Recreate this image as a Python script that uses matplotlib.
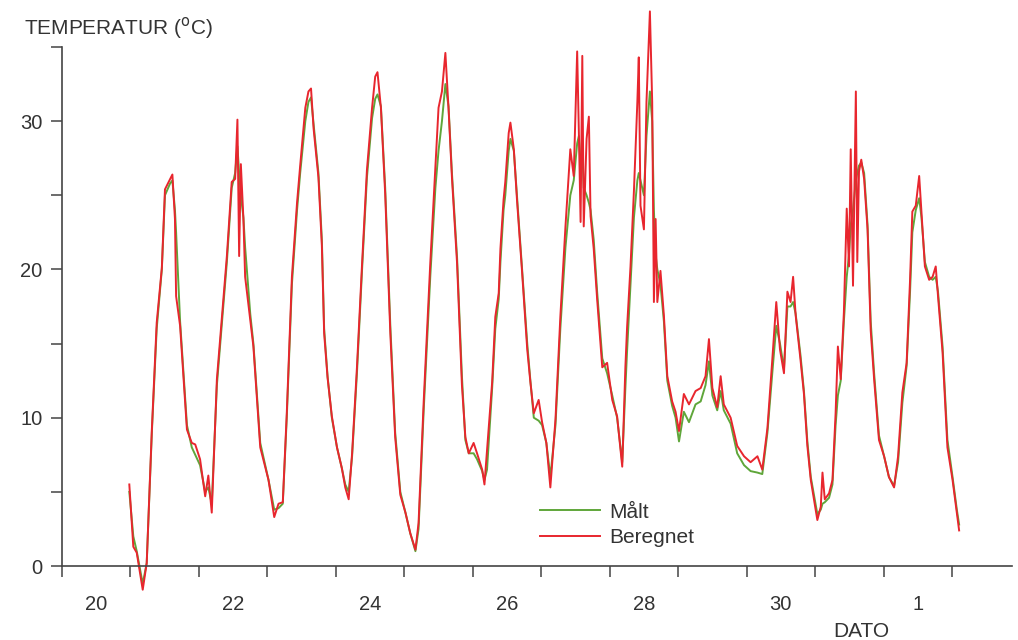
from matplotlib import pyplot as plt

# timer regnet fra 20. kl 00
timer = [23.6, 25.0, 26.2, 28.3, 29.7, 31.5, 33.2, 35.0, 36.1, 37.9, 38.7, 39.6, 40.0, 41.4, 43.8,
         45.5, 46.7, 48.4, 50.2, 51.3, 52.5, 54.3, 57.8, 59.5, 60.7, 61.5, 62.1, 62.7, 63.6, 64.2,
         66.0, 67.1, 69.5, 72.4, 74.4, 75.9, 77.4, 78.8, 80.6, 82.4, 83.5, 85.3, 86.4, 87.3, 88.2,
         89.9, 91.1, 91.9, 93.1, 94.6, 96.4, 98.1, 99.3, 100.5, 101.7, 103.4, 105.2, 106.9, 108.7,
         109.8, 110.6, 111.8, 113.3, 115.1, 116.8, 118.6, 120.4, 122.1, 123.9, 125.0, 126.8, 129.1,
         130.9, 132.0, 133.2, 134.4, 135.5, 136.7, 138.5, 140.2, 141.4, 142.6, 144.3, 145.5, 147.3,
         148.1, 149.0, 150.8, 151.9, 153.1, 153.7, 154.8, 155.4, 156.6, 157.2, 158.4, 159.5, 161.3,
         163.1, 164.2, 165.4, 167.1, 168.3, 169.8, 171.2, 173.0, 174.7, 176.5, 178.2, 179.4, 180.6,
         181.2, 181.8, 182.4, 182.9, 183.9, 184.7, 185.3, 186.4, 187.6, 189.4, 191.1, 192.9, 194.6,
         196.4, 197.5, 198.1, 199.3, 200.5, 201.7, 202.2, 202.8, 204.0, 204.9, 206.1, 206.9, 207.5,
         208.1, 208.7, 209.8, 211.0, 212.2, 213.9, 215.1, 216.3, 218.0, 219.8, 222.1, 223.9, 225.6,
         226.8, 228.0, 229.7, 230.9, 232.0, 234.4, 236.7, 239.1, 241.4, 243.8, 245.5, 247.3, 249.0,
         250.4, 251.7, 253.1, 254.3, 255.4, 256.3, 257.2, 258.9, 260.1, 261.3, 262.5, 263.6, 264.8,
         266.0, 266.6, 267.4, 268.9, 270.1, 271.2, 272.0, 273.0, 274.1, 275.1, 275.9, 276.5, 277.3,
         278.3, 278.8, 279.4, 280.2, 281.2, 282.4, 283.5, 284.7, 286.4, 288.2, 289.9, 291.7, 293.1,
         294.6, 296.1, 297.3, 298.1, 299.3, 300.5, 301.3, 302.5, 304.0, 305.2, 306.3, 307.1, 308.7,
         310.4, 312.2, 313.7, 314.5]

beregnet = [5.5, 1.3, 0.9, -1.6, 0.2, 9.2, 16.4, 20.1, 25.4, 26.1, 26.4, 23.4, 18.2, 16.2, 9.2,
            8.3, 8.2, 7.2, 4.7, 6.1, 3.6, 12.6, 20.9, 25.9, 26.1, 30.1, 20.9, 27.1, 23.4, 19.5,
            16.6, 14.8, 8.0, 5.8, 3.3, 4.2, 4.3, 10.3, 19.5, 24.5, 27.0, 30.9, 32.0, 32.2, 29.5,
            26.2, 21.6, 15.7, 12.7, 10.1, 8.0, 6.6, 5.3, 4.5, 7.6, 13.4, 20.4, 26.7, 30.9,
            33.0, 33.3, 30.9, 25.1, 15.7, 8.7, 4.8, 3.6, 2.2, 1.1, 2.9, 11.1, 20.4,
            26.9, 30.9, 32.0, 34.6, 30.9, 26.2, 20.4, 12.2, 8.7, 7.6, 8.3, 7.6, 6.5,
            5.5, 7.8, 12.4, 16.8, 18.4, 21.4, 24.7, 25.9, 29.2, 29.9, 28.1, 24.7, 19.8,
            14.6, 12.4, 10.3, 11.2, 9.7, 8.3, 5.3, 9.9, 16.8, 22.9, 28.1, 26.3, 34.7,
            29.2, 23.2, 34.4, 22.9, 28.8, 30.3, 23.6, 21.4, 18.0, 13.4, 13.7, 11.2, 10.1,
            6.7, 13.4, 16.1, 20.2, 25.3, 31.3, 34.3, 24.3, 22.7, 31.3, 37.4, 31.3, 17.8,
            23.4, 17.8, 19.9, 16.9, 12.8, 11.1, 10.4, 9.1, 11.6, 10.9, 11.8, 12.0, 12.8,
            15.3, 12.0, 10.7, 12.8, 10.9, 10.0, 8.1, 7.4, 7.0, 7.4, 6.5, 9.3, 13.9,
            17.8, 14.6, 13.0, 18.5, 17.8, 19.5, 16.9, 13.9, 11.6, 8.1, 5.8, 4.5, 3.1,
            4.0, 6.3, 4.5, 4.9, 5.8, 10.3, 14.8, 12.6, 17.1, 24.1, 20.2, 28.1, 18.9,
            32.0, 20.5, 26.6, 27.4, 26.1, 22.7, 15.9, 12.6, 8.5, 7.4, 6.0, 5.3, 7.4,
            11.7, 13.7, 19.3, 23.9, 24.3, 26.3, 23.9, 20.2, 19.3, 19.5, 20.2, 18.2, 14.4,
            8.0, 5.8, 3.6, 2.4]

maalt = [5.0, 2.0, 1.0, -1.2, 0.2, 9.0, 16.0, 20.0, 25.0, 25.8, 26.0, 24.0, 22.5, 16.5, 9.5,
         8.0, 7.5, 6.8, 5.0, 5.3, 4.2, 12.2, 20.5, 25.5, 26.5, 28.3, 26.5, 25.0, 23.5, 21.5,
         17.0, 15.0, 8.3, 5.8, 3.8, 3.9, 4.2, 10.0, 19.0, 24.0, 26.5, 30.0, 31.3, 31.6, 29.8,
         26.5, 22.0, 16.0, 12.8, 10.0, 8.0, 6.6, 5.5, 5.0, 7.4, 13.0, 20.0, 26.2, 30.2,
         31.5, 31.8, 31.0, 25.5, 16.2, 9.0, 5.0, 3.6, 2.2, 1.0, 2.5, 10.5, 19.5,
         25.5, 28.0, 30.0, 32.5, 31.0, 26.5, 20.8, 12.8, 8.5, 7.6, 7.6, 7.2, 6.4,
         5.8, 6.5, 12.0, 16.0, 18.0, 20.5, 24.0, 25.0, 28.0, 28.8, 28.0, 25.0, 20.0,
         15.0, 12.5, 10.0, 9.8, 9.5, 8.3, 6.0, 9.5, 16.0, 21.5, 25.0, 26.0, 28.5,
         29.0, 27.0, 28.0, 25.5, 25.0, 24.5, 24.0, 22.0, 18.5, 14.0, 13.0, 11.5, 10.0,
         7.0, 12.0, 14.5, 19.0, 23.5, 26.0, 26.5, 26.0, 25.0, 29.0, 32.0, 30.0, 24.0,
         21.0, 20.0, 19.0, 16.5, 12.5, 10.8, 10.0, 8.4, 10.4, 9.7, 10.9, 11.1, 12.2,
         13.8, 11.5, 10.5, 11.8, 10.5, 9.6, 7.6, 6.8, 6.4, 6.3, 6.2, 9.0, 13.0,
         16.2, 15.0, 13.3, 17.5, 17.5, 17.8, 17.0, 14.2, 11.8, 8.4, 6.0, 4.8, 3.5,
         3.8, 4.2, 4.3, 4.6, 5.5, 9.5, 11.5, 12.5, 16.5, 19.5, 21.0, 23.0, 24.0,
         26.0, 26.5, 27.0, 27.2, 26.5, 23.0, 16.5, 13.0, 8.8, 7.4, 6.0, 5.4, 7.0,
         11.0, 13.5, 18.5, 22.5, 24.0, 24.8, 23.5, 20.5, 19.5, 19.3, 19.5, 18.5, 14.8,
         8.5, 6.0, 3.8, 2.8]

dag_etiketter = ['20', '22', '24', '26', '28', '30', '1']
temp_etiketter = ['0', '10', '20', '30']

tekst_farge = '#333333'
akse_farge = '#444444'
plt.rcParams['font.family'] = ['Liberation Sans', 'DejaVu Sans']
FONT = 14.5

fig = plt.figure(figsize=(10.18, 6.4), dpi=100)
ax = fig.add_axes([0.0609, 0.1156, 0.9331, 0.811])

ax.plot(timer, maalt, color='#5fa63a', linewidth=1.4, label='Målt', clip_on=False)
ax.plot(timer, beregnet, color='#e8262e', linewidth=1.4, label='Beregnet', clip_on=False)

ax.set_xlim(0, 333)
ax.set_ylim(0, 35)

ax.spines['top'].set_visible(False)
ax.spines['right'].set_visible(False)
for side in ['left', 'bottom']:
    ax.spines[side].set_color(akse_farge)
    ax.spines[side].set_linewidth(1.2)

# hovedstreker ved dagsskifte, tall midt på dagen
ax.set_xticks([24 * i for i in range(14)])
ax.set_xticklabels([])
ax.set_xticks([12 + 48 * i for i in range(len(dag_etiketter))], minor=True)
ax.set_xticklabels(dag_etiketter, minor=True)
ax.tick_params(axis='x', which='major', direction='out', length=8, width=1.1, color=akse_farge)
ax.tick_params(axis='x', which='minor', length=0, pad=21, labelsize=FONT, labelcolor=tekst_farge)

ax.set_yticks([5 * i for i in range(8)])
ax.set_yticklabels([temp_etiketter[i // 2] if i % 2 == 0 else '' for i in range(8)])
ax.tick_params(axis='y', direction='out', length=8, width=1.1, color=akse_farge, pad=6,
               labelsize=FONT, labelcolor=tekst_farge)

fig.text(0.024, 0.956, 'TEMPERATUR ($^{\\mathrm{o}}$C)', fontsize=FONT + 0.5, color=tekst_farge,
         ha='left', va='center')
fig.text(0.846, 0.013, 'DATO', fontsize=FONT + 0.5, color=tekst_farge, ha='center', va='center')

ax.legend(loc='upper left', bbox_to_anchor=(0.520, 0.231), bbox_transform=fig.transFigure,
          frameon=False, fontsize=FONT + 0.5, handlelength=2.9, handletextpad=0.45,
          labelspacing=0.3, labelcolor=tekst_farge, borderpad=0)

plt.savefig('out.png', dpi=100)
plt.clf()
